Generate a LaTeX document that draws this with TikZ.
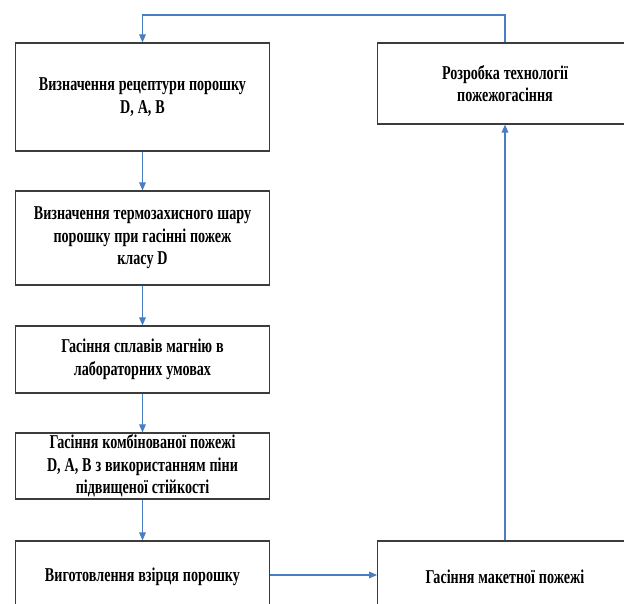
\documentclass[tikz,border=0pt]{standalone}
\usepackage{fontspec}
\setmainfont{Liberation Serif}[FakeStretch=0.72, WordSpace=1.1]
\usetikzlibrary{arrows.meta}
\definecolor{linkblue}{HTML}{4A7EC2}
\definecolor{boxgray}{HTML}{3C3C3C}
\begin{document}
\begin{tikzpicture}[x=0.75pt, y=-0.75pt,
    stepbox/.style={draw=boxgray, line width=0.9pt, fill=white, minimum width=191pt, text width=188pt, align=flush center, inner sep=0pt, font=\bfseries\fontsize{14.7}{16.8}\selectfont},
    link/.style={draw=linkblue, line width=0.8pt, -{Triangle[length=6pt, width=5pt]}}]
        \useasboundingbox (0,0) rectangle (624,603);
        \clip (0,0) rectangle (624,603);
            \node[stepbox, minimum height=81pt] (recipe) at (142.5,97) {Визначення рецептури порошку\\D, A, B};
            \node[stepbox, minimum height=70.5pt] (layer) at (142.5,238) {Визначення термозахисного шару\\порошку при гасінні пожеж\\класу D};
            \node[stepbox, minimum height=50.25pt] (alloys) at (142.5,359.5) {Гасіння сплавів магнію в\\лабораторних умовах};
            \node[stepbox, minimum height=49.5pt] (combined) at (142.5,466) {Гасіння комбінованої пожежі\\D, A, B з використанням піни\\підвищеної стійкості};
            \node[stepbox, minimum height=54pt] (sample) at (142.5,577) {Виготовлення взірця порошку};
            \node[stepbox, minimum height=54pt] (model) at (505,577) {Гасіння макетної пожежі};
            \node[stepbox, minimum height=60.75pt] (tech) at (505,83.5) {Розробка технології\\пожежогасіння};
            \coordinate (loop) at (505,15);
            \draw[link] (recipe) -- (layer);
            \draw[link] (layer) -- (alloys);
            \draw[link] (alloys) -- (combined);
            \draw[link] (combined) -- (sample);
            \draw[link] (sample.east |- 0,575) -- (model.west |- 0,575);
            \draw[link] (model) -- (tech);
            \draw[link] (tech.north) -- (loop) -| (recipe.north);
        \end{tikzpicture}
\end{document}
